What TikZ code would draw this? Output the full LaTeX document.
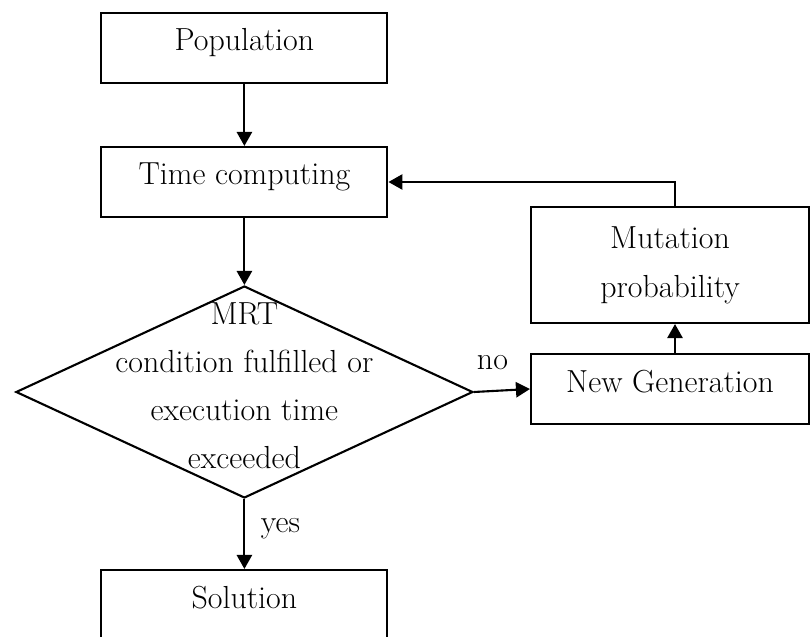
\documentclass[tikz,border=0pt]{standalone}
\usepackage{fontspec}
\usepackage{tikz}
\usetikzlibrary{arrows.meta,shapes.geometric}

\tikzset{
  ramka/.style={draw, line width=1.5pt, inner sep=0pt},
  blok/.style={ramka, minimum width=7.15cm, minimum height=1.75cm, text height=0.55cm, text depth=0.4cm},
  strelka/.style={-{Triangle[length=3.5mm,width=3.8mm]}, line width=1.5pt},
}

\begin{document}
\begin{tikzpicture}[font=\fontsize{22.7}{35}\selectfont]
\useasboundingbox (0,0) rectangle (20.275,15.9);
% блоки
\node [blok] (pop) at (6.11,14.7) {Population};
\node [blok] (time) at (6.11,11.35) {Time computing};
\node [ramka, diamond, minimum width=11.425cm, minimum height=5.3cm] (cond) at (6.11,6.1) {};
\node [align=center, font=\fontsize{22.7}{34}\selectfont] (condtext) at (6.11,6.26) {MRT\\condition fulfilled or\\execution time\\exceeded};
\node [blok] (sol) at (6.11,0.775) {Solution};
\node [ramka, minimum width=6.95cm, minimum height=2.9cm, align=center] (mut) at (16.75,9.275) {Mutation\\probability};
\node [blok, minimum width=6.95cm] (ng) at (16.75,6.175) {New Generation};
% стрелки
\draw [strelka] (pop) -- (time);
\draw [strelka] (time) -- (cond.north);
\draw [strelka] (cond.south) -- node [pos=0.42, xshift=0.9cm] {yes} (sol);
\draw [strelka] (cond.east) -- node [pos=0.33, yshift=0.72cm] {no} (ng.west);
\draw [strelka] ([xshift=0.125cm]ng.north) -- ([xshift=0.125cm]mut.south);
\draw [strelka] ([xshift=0.125cm]mut.north) |- (time.east);
\end{tikzpicture}
\end{document}
